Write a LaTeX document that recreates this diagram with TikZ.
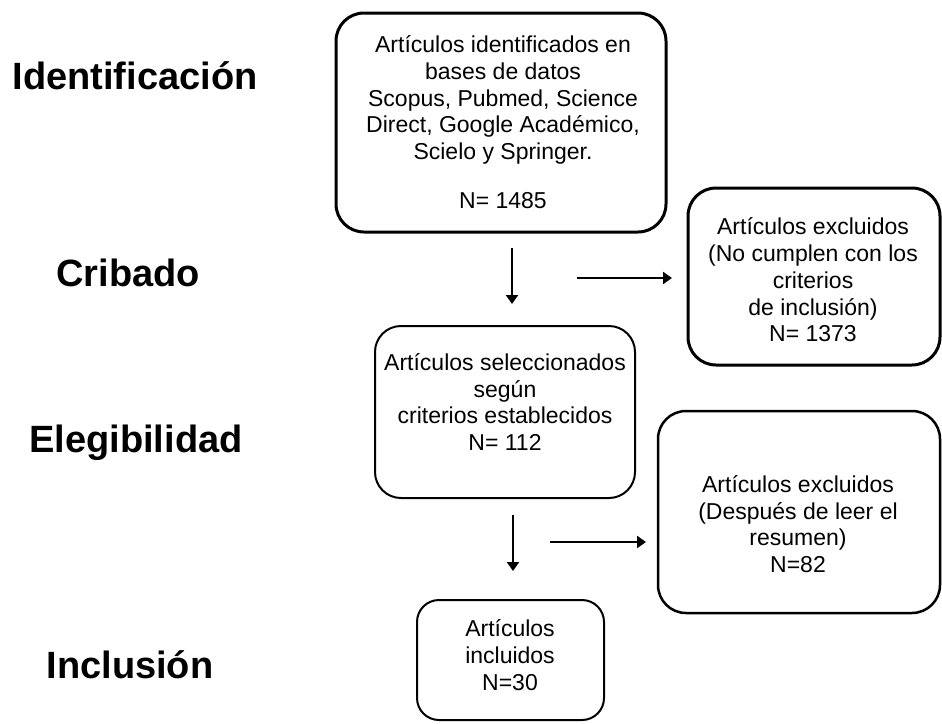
\documentclass[tikz,border=0pt]{standalone}
\usepackage{fontspec}
\setmainfont{Liberation Sans}
\usetikzlibrary{arrows.meta}
\begin{document}
\begin{tikzpicture}[x=1pt,y=-1pt,
  box/.style={draw=black, rounded corners=28pt, minimum width=#1, inner sep=0pt},
  btxt/.style={align=center, font=\fontsize{23}{26.7}\selectfont, inner sep=0pt},
  stage/.style={font=\fontsize{38}{44}\selectfont\bfseries, inner sep=0pt},
  arr/.style={line width=2.5pt, -{Triangle[length=9pt,width=12pt]}}]
\useasboundingbox (0,0) rectangle (942,723);
% stage labels
\node[stage] (s1) at (135,76) {Identificación};
\node[stage] (s2) at (128,273) {Cribado};
\node[stage] (s3) at (136,443) {Elegibilidad};
\node[stage] (s4) at (130,665) {Inclusión};
% boxes
\node[box=330pt, minimum height=219pt, line width=3pt] (b1) at (501,122.5) {};
\node[box=252pt, minimum height=177pt, line width=3pt] (b2) at (814,276.5) {};
\node[box=260pt, minimum height=172pt, line width=2pt, rounded corners=26pt] (b3) at (505,412) {};
\node[box=282pt, minimum height=202pt, line width=2.5pt] (b4) at (799,512) {};
\node[box=187pt, minimum height=120pt, line width=2pt, rounded corners=22pt] (b5) at (510.5,660) {};
% texts
\node[btxt] (t1) at (503,122) {Artículos identificados en\\ bases de datos\\ Scopus, Pubmed, Science\\ Direct, Google Académico,\\ Scielo y Springer.\\[22pt] N= 1485};
\node[btxt] (t2) at (813,280) {Artículos excluidos\\ (No cumplen con los\\ criterios\\ de inclusión)\\ N= 1373};
\node[btxt] (t3) at (505,402) {Artículos seleccionados\\ según\\ criterios establecidos\\ N= 112};
\node[btxt] (t4) at (798,524) {Artículos excluidos\\ (Después de leer el\\ resumen)\\ N=82};
\node[btxt] (t5) at (510,655) {Artículos\\ incluidos\\ N=30};
% arrow end points
\coordinate (d1s) at (512,248); \coordinate (d1e) at (512,304);
\coordinate (h1s) at (577,278); \coordinate (h1e) at (672,278);
\coordinate (d2s) at (513,515); \coordinate (d2e) at (513,571);
\coordinate (h2s) at (550,542); \coordinate (h2e) at (646,542);
\draw[arr] (d1s) -- (d1e);
\draw[arr] (h1s) -- (h1e);
\draw[arr] (d2s) -- (d2e);
\draw[arr] (h2s) -- (h2e);
\end{tikzpicture}
\end{document}
